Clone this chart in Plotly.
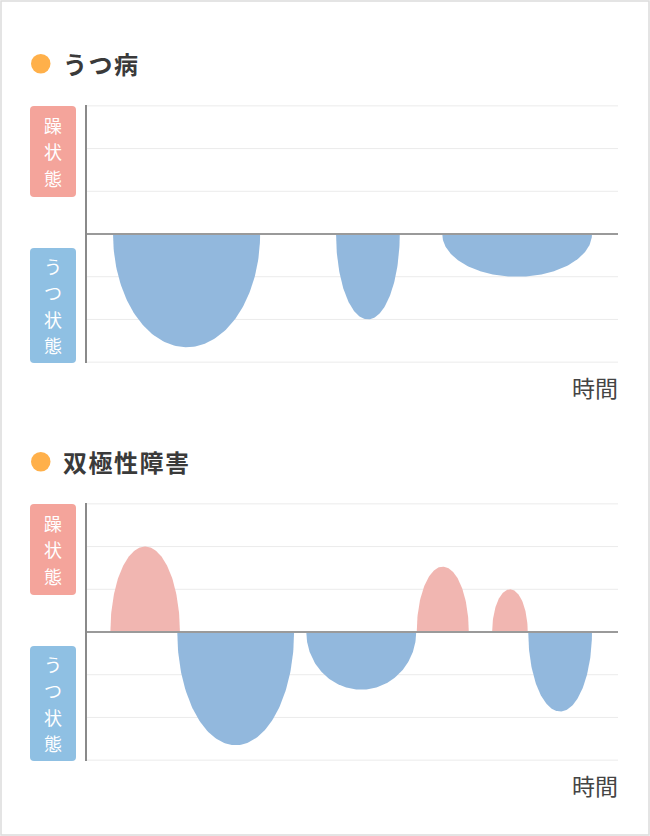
import numpy as np
import plotly.graph_objects as go

# ---- data (time axis 0-100, state level -3..3) ----
unipolar_start = [4.9, 46.9, 66.9]
unipolar_end = [32.6, 58.9, 95.1]
unipolar_level = [-2.65, -2.0, -1.0]

bipolar_start = [4.4, 17.0, 41.3, 62.1, 76.3, 83.1]
bipolar_end = [17.5, 39.0, 62.0, 71.9, 83.0, 95.1]
bipolar_level = [2.0, -2.65, -1.35, 1.53, 1.0, -1.86]

grid_levels = [-3, -2, -1, 1, 2, 3]

titles = ["うつ病", "双極性障害"]
mania_label = "躁状態"
depress_label = "うつ状態"
time_label = "時間"

# ---- styling ----
W, H = 650, 836
PL, PR, PT, PB = 87, 618, 105, 761
FONT = "Noto Sans CJK JP"
BLUE = "#92b8dd"
RED = "#f1b6b1"
BOX_RED = "#f4a49b"
BOX_BLUE = "#8fc0e3"
DOT = "#ffb04a"
TXT = "#3a3a3a"


def px(x):
    return (x - PL) / (PR - PL)


def py(y):
    return (PB - y) / (PB - PT)


def bump(s, e, a, n=120):
    t = np.linspace(0, np.pi, n)
    c = (s + e) / 2
    r = (e - s) / 2
    xs = c - r * np.cos(t)
    ys = a * np.sin(t)
    return np.concatenate([[s], xs, [e]]), np.concatenate([[0], ys, [0]])


fig = go.Figure()

panels = [
    (unipolar_start, unipolar_end, unipolar_level, "x", "y"),
    (bipolar_start, bipolar_end, bipolar_level, "x2", "y2"),
]
for s_list, e_list, l_list, xa, ya in panels:
    for s, e, a in zip(s_list, e_list, l_list):
        xs, ys = bump(s, e, a)
        fig.add_trace(go.Scatter(
            x=xs, y=ys, mode="lines", fill="toself",
            fillcolor=RED if a > 0 else BLUE,
            line=dict(width=0, color=RED if a > 0 else BLUE),
            hoverinfo="skip", showlegend=False, xaxis=xa, yaxis=ya))

top_dom = [(PB - 363) / (PB - PT), 1.0]
bot_dom = [0.0, (PB - 503) / (PB - PT)]

xcommon = dict(range=[0, 100], showgrid=False, zeroline=False, showticklabels=False,
               ticks="", showline=False, fixedrange=True)
ycommon = dict(range=[-3.02, 3.02], showgrid=False, zeroline=False, showticklabels=False,
               ticks="", showline=True, linecolor="#8a8a8a", linewidth=2, fixedrange=True)

fig.update_layout(
    width=W, height=H,
    margin=dict(l=PL, r=W - PR, t=PT, b=H - PB, pad=0),
    paper_bgcolor="white", plot_bgcolor="white",
    xaxis=dict(domain=[0, 1], anchor="y", **xcommon),
    yaxis=dict(domain=top_dom, anchor="x", **ycommon),
    xaxis2=dict(domain=[0, 1], anchor="y2", **xcommon),
    yaxis2=dict(domain=bot_dom, anchor="x2", **ycommon),
    font=dict(family=FONT),
)

shapes = []
annotations = []

# outer frame
shapes.append(dict(type="rect", xref="paper", yref="paper",
                   x0=px(1), x1=px(649), y0=py(1), y1=py(835),
                   line=dict(color="#dcdcdc", width=1.5), fillcolor="rgba(0,0,0,0)", layer="below"))

for xd, yd in [("x domain", "y"), ("x2 domain", "y2")]:
    # grid lines
    for g in grid_levels:
        shapes.append(dict(type="line", xref=xd, yref=yd, x0=0, x1=1, y0=g, y1=g,
                           line=dict(color="#ebebeb", width=1), layer="below"))
    # zero line on top of bumps
    shapes.append(dict(type="line", xref=xd, yref=yd, x0=0, x1=1, y0=0, y1=0,
                       line=dict(color="#9a9a9a", width=2), layer="above"))


def rounded_box(x0, y0, x1, y1, r, color):
    X0, X1 = px(x0), px(x1)
    Y0, Y1 = py(y0), py(y1)
    rx = r / (PR - PL)
    ry = r / (PB - PT)
    path = (f"M {X0+rx},{Y0} L {X1-rx},{Y0} Q {X1},{Y0} {X1},{Y0-ry} "
            f"L {X1},{Y1+ry} Q {X1},{Y1} {X1-rx},{Y1} L {X0+rx},{Y1} "
            f"Q {X0},{Y1} {X0},{Y1+ry} L {X0},{Y0-ry} Q {X0},{Y0} {X0+rx},{Y0} Z")
    return dict(type="path", xref="paper", yref="paper", path=path,
                fillcolor=color, line=dict(width=0), layer="above")


def vertical_text(label, xc, yc, step, size):
    # one text block, one character per line; line pitch = 1.3 * base size
    base = step / 1.3
    body = "<br>".join(f"<span style='font-size:{size}px'>{ch}</span>" for ch in label)
    annotations.append(dict(text=body, xref="paper", yref="paper",
                            x=px(xc), y=py(yc), xanchor="center", yanchor="middle",
                            align="center", showarrow=False,
                            font=dict(family=FONT, size=base, color="white")))


for (top, title) in [(0, titles[0]), (398, titles[1])]:
    # title dot + text
    shapes.append(dict(type="circle", xref="paper", yref="paper",
                       x0=px(31), x1=px(50.5), y0=py(54 + top), y1=py(73.5 + top),
                       fillcolor=DOT, line=dict(width=0)))
    annotations.append(dict(text="<b>" + "\u200a".join(title) + "</b>", xref="paper", yref="paper",
                            x=px(61), y=py(63.5 + top), xanchor="left", yanchor="middle",
                            showarrow=False, font=dict(family=FONT, size=24, color=TXT)))
    # label boxes
    shapes.append(rounded_box(30, 106 + top, 76, 197 + top, 4, BOX_RED))
    shapes.append(rounded_box(30, 248 + top, 76, 363 + top, 4, BOX_BLUE))
    vertical_text(mania_label, 53, 151.5 + top, 26.3, 18)
    vertical_text(depress_label, 53, 305.5 + top, 26.3, 18)
    # time label
    annotations.append(dict(text=time_label, xref="paper", yref="paper",
                            x=px(620), y=py(387 + top), xanchor="right", yanchor="middle",
                            showarrow=False, font=dict(family=FONT, size=23, color="#444444")))

fig.update_layout(shapes=shapes, annotations=annotations)

fig.write_html("out.html", config={"displayModeBar": False},
               post_script="document.body.style.margin='0';")
